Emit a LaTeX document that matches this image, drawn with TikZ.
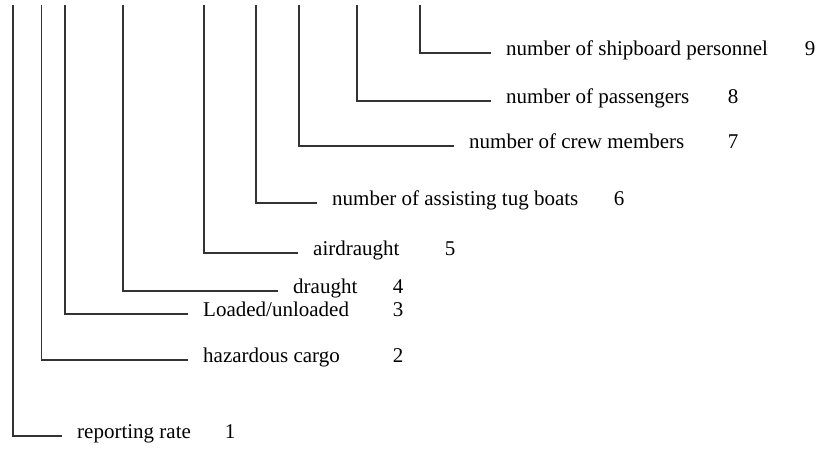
\documentclass[tikz,border=0pt]{standalone}
\usepackage{fontspec}
\setmainfont{Liberation Serif}

\tikzset{
  field/.style={anchor=west, inner xsep=15pt, text height=8pt, text depth=4pt,
    font=\fontsize{21}{25}\selectfont},
  fieldno/.style={anchor=base, inner sep=0pt, font=\fontsize{21}{25}\selectfont},
  bracket/.style={line width=1.3pt, draw=black!80}
}

\begin{document}
\begin{tikzpicture}[x=1pt,y=-1pt]
          \useasboundingbox (0,0) rectangle (817,448);
          % tops of the vertical lines
          \coordinate (t1) at (13,4.5);
          \coordinate (t2) at (41.5,4.5);
          \coordinate (t3) at (65,4.5);
          \coordinate (t4) at (123,4.5);
          \coordinate (t5) at (204,4.5);
          \coordinate (t6) at (256,4.5);
          \coordinate (t7) at (299,4.5);
          \coordinate (t8) at (357,4.5);
          \coordinate (t9) at (420,4.5);
          % field names
          \node[field] (l1) at (62,436) {reporting rate};
          \node[field] (l2) at (188,360) {hazardous cargo};
          \node[field] (l3) at (188,314) {Loaded/unloaded};
          \node[field] (l4) at (278,291) {draught};
          \node[field] (l5) at (298,253) {airdraught};
          \node[field] (l6) at (317,203) {number of assisting tug boats};
          \node[field] (l7) at (454,146) {number of crew members};
          \node[field] (l8) at (491,101) {number of passengers};
          \node[field] (l9) at (491,53) {number of shipboard personnel};
          % field numbers
          \node[fieldno] (n1) at (230,438) {1};
          \node[fieldno] (n2) at (398,362) {2};
          \node[fieldno] (n3) at (398,316) {3};
          \node[fieldno] (n4) at (398,293) {4};
          \node[fieldno] (n5) at (450,255) {5};
          \node[fieldno] (n6) at (619,205) {6};
          \node[fieldno] (n7) at (733,148) {7};
          \node[fieldno] (n8) at (733,103) {8};
          \node[fieldno] (n9) at (810,55) {9};
          \draw[bracket] (t1) |- (l1.west);
          \draw[bracket] (t2) |- (l2.west);
          \draw[bracket] (t3) |- (l3.west);
          \draw[bracket] (t4) |- (l4.west);
          \draw[bracket] (t5) |- (l5.west);
          \draw[bracket] (t6) |- (l6.west);
          \draw[bracket] (t7) |- (l7.west);
          \draw[bracket] (t8) |- (l8.west);
          \draw[bracket] (t9) |- (l9.west);
        \end{tikzpicture}
\end{document}
